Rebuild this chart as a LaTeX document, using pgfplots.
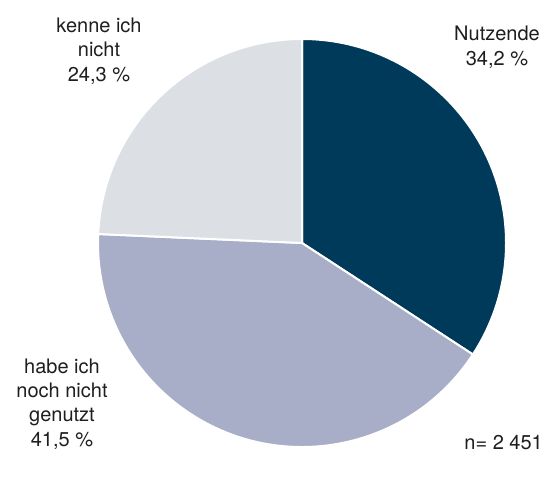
\documentclass[border=0pt]{standalone}
\usepackage{pgfplots}
\pgfplotsset{compat=1.18}
\usepackage{pgfplotstable}
\usepackage{fontspec}
\setmainfont{TeX Gyre Heros}
\definecolor{cA}{RGB}{0,58,90}
\definecolor{cB}{RGB}{169,174,200}
\definecolor{cC}{RGB}{220,224,229}
\definecolor{txt}{RGB}{30,30,30}
\pgfplotstableread{
label value
Nutzende 34.2
habe 41.5
kenne 24.3
}\piedata
\pgfplotstablegetelem{0}{value}\of\piedata \let\va\pgfplotsretval
\pgfplotstablegetelem{1}{value}\of\piedata \let\vb\pgfplotsretval
\pgfplotstablegetelem{2}{value}\of\piedata \let\vc\pgfplotsretval
\pgfmathsetmacro{\aA}{90}
\pgfmathsetmacro{\aB}{90-3.6*\va}
\pgfmathsetmacro{\aC}{\aB-3.6*\vb}
\pgfmathsetmacro{\aD}{\aC-3.6*\vc}
\begin{document}
\begin{tikzpicture}
\begin{axis}[hide axis, scale only axis, width=547bp, height=453bp,
  xmin=0, xmax=547, ymin=0, ymax=453, clip=false]
\path (axis cs:0,0) (axis cs:547,453);
\filldraw[fill=cA, draw=white, line width=2bp] (axis cs:302,210) -- ++(\aA:204bp) arc[start angle=\aA, end angle=\aB, radius=204bp] -- cycle;
\filldraw[fill=cB, draw=white, line width=2bp] (axis cs:302,210) -- ++(\aB:204bp) arc[start angle=\aB, end angle=\aC, radius=204bp] -- cycle;
\filldraw[fill=cC, draw=white, line width=2bp] (axis cs:302,210) -- ++(\aC:204bp) arc[start angle=\aC, end angle=\aD, radius=204bp] -- cycle;
\tikzset{lab/.style={anchor=base, inner sep=0pt, text=txt, font=\fontsize{20bp}{24bp}\selectfont}}
\node[lab] at (axis cs:99,420) {kenne ich};
\node[lab] at (axis cs:99,396) {nicht};
\node[lab] at (axis cs:99,371.5) {24,3 \%};
\node[lab] at (axis cs:497,412) {Nutzende};
\node[lab] at (axis cs:497,387.5) {34,2 \%};
\node[lab] at (axis cs:62,80) {habe ich};
\node[lab] at (axis cs:62,56) {noch nicht};
\node[lab] at (axis cs:62,32) {genutzt};
\node[lab] at (axis cs:62,7) {41,5 \%};
\node[lab, anchor=base east] at (axis cs:543,4) {n= 2 451};
\end{axis}
\end{tikzpicture}
\end{document}
